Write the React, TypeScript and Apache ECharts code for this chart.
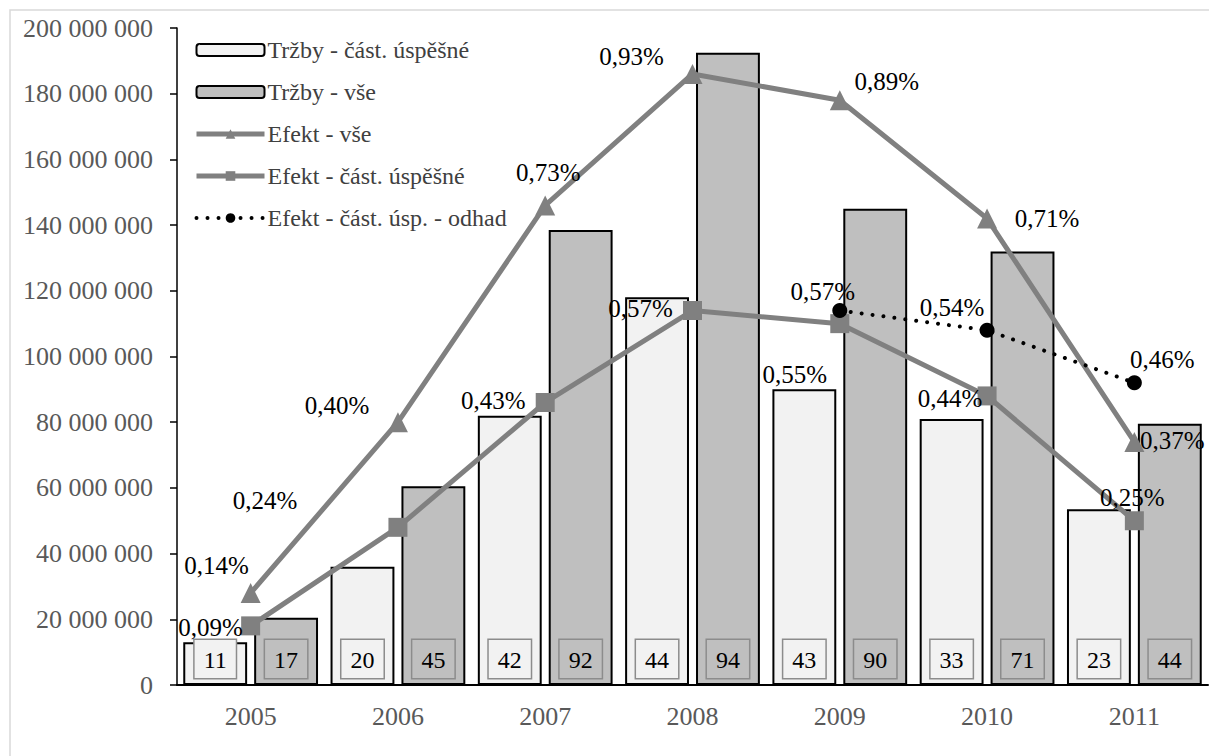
import React, { useEffect, useRef } from "react";
import * as echarts from "echarts";

const years = ["2005", "2006", "2007", "2008", "2009", "2010", "2011"];
const trzbyCast = [13000000, 36000000, 82000000, 118000000, 90000000, 81000000, 53500000];
const trzbyVse = [20500000, 60500000, 138500000, 192500000, 145000000, 132000000, 79500000];
const pocetCast = [11, 20, 42, 44, 43, 33, 23];
const pocetVse = [17, 45, 92, 94, 90, 71, 44];
const efektVse = [0.14, 0.4, 0.73, 0.93, 0.89, 0.71, 0.37];
const efektCast = [0.09, 0.24, 0.43, 0.57, 0.55, 0.44, 0.25];
const efektOdhad = [null, null, null, null, 0.57, 0.54, 0.46];
const yTicks = { min: 0, max: 200000000, interval: 20000000 };

// label offsets (style)
const offVse = [[-34, -28], [-61, -17], [3, -33], [-61, -17], [47, -19], [60, 0], [38, -1]];
const offCast = [[-40, 2], [-133, -27], [-52, -2], [-52, -2], [-45, 51], [-37, 3], [-2, -23]];
const offOdhad = [[0, 0], [0, 0], [0, 0], [0, 0], [-17, -19], [-35, -23], [28, -23]];

const FONT = "'Liberation Serif', 'Times New Roman', serif";
const fmtNum = (v: number) => String(v).replace(/\B(?=(\d{3})+(?!\d))/g, " ");
const fmtPct = (v: number) => v.toFixed(2).replace(".", ",") + "%";

function lineData(vals: (number | null)[], offs: number[][]) {
  return vals.map((v, i) =>
    v == null
      ? null
      : {
          value: v,
          label: { show: true, position: "inside", offset: offs[i], formatter: (p: any) => fmtPct(p.value) },
        }
  );
}

function barLabel(counts: number[], bg: string) {
  return {
    show: true,
    position: "insideBottom",
    distance: 7,
    formatter: (p: any) => String(counts[p.dataIndex]),
    fontFamily: FONT,
    fontSize: 24,
    lineHeight: 24,
    color: "#000",
    backgroundColor: bg,
    borderColor: "#8c8c8c",
    borderWidth: 1.5,
    padding: [8, 9, 6, 9],
  };
}

export default function App() {
  const ref = useRef<HTMLDivElement>(null);
  useEffect(() => {
    if (!ref.current) return;
    const chart = echarts.init(ref.current, null, { renderer: "svg" });
    const lineLabel = { fontFamily: FONT, fontSize: 25, color: "#000" };
    chart.setOption({
      animation: false,
      backgroundColor: "#fff",
      textStyle: { fontFamily: FONT },
      graphic: [
        {
          type: "rect",
          shape: { x: 10, y: 10, width: 1400, height: 900 },
          style: { fill: "none", stroke: "#d9d9d9", lineWidth: 1.5 },
          silent: true,
          z: -10,
        },
      ],
      grid: { left: 177, right: 1, top: 28, bottom: 71 },
      legend: {
        orient: "vertical",
        left: 189,
        top: 33,
        itemWidth: 68,
        itemHeight: 12,
        itemGap: 18,
        textStyle: { fontFamily: FONT, fontSize: 24, color: "#404040", padding: [0, 0, 0, -2] },
        data: [
          { name: "Tržby - část. úspěšné" },
          { name: "Tržby - vše" },
          { name: "Efekt - vše", lineStyle: { width: 5 } },
          { name: "Efekt - část. úspěšné", lineStyle: { width: 5 } },
          { name: "Efekt - část. úsp. - odhad", lineStyle: { width: 4 } },
        ],
      },
      xAxis: {
        type: "category",
        data: years,
        axisLine: { lineStyle: { color: "#000", width: 2 } },
        axisTick: { show: false },
        axisLabel: { fontFamily: FONT, fontSize: 26, color: "#595959", margin: 18 },
      },
      yAxis: [
        {
          type: "value",
          min: yTicks.min,
          max: yTicks.max,
          interval: yTicks.interval,
          axisLine: { show: true, lineStyle: { color: "#000", width: 1.5 } },
          axisTick: { show: true, length: 7, lineStyle: { color: "#000", width: 1.5 } },
          splitLine: { show: false },
          axisLabel: { fontFamily: FONT, fontSize: 26, color: "#595959", margin: 24, formatter: fmtNum },
        },
        { type: "value", min: 0, max: 1, show: false, splitLine: { show: false } },
      ],
      series: [
        {
          name: "Tržby - část. úspěšné",
          type: "bar",
          data: trzbyCast,
          barGap: "11%",
          barCategoryGap: "8.5%",
          itemStyle: { color: "#f2f2f2", borderColor: "#000", borderWidth: 2 },
          label: barLabel(pocetCast, "#f2f2f2"),
          z: 2,
        },
        {
          name: "Tržby - vše",
          type: "bar",
          data: trzbyVse,
          itemStyle: { color: "#bfbfbf", borderColor: "#000", borderWidth: 2 },
          label: barLabel(pocetVse, "#bfbfbf"),
          z: 2,
        },
        {
          name: "Efekt - vše",
          type: "line",
          yAxisIndex: 1,
          data: lineData(efektVse, offVse),
          symbol: "triangle",
          symbolSize: 20,
          itemStyle: { color: "#808080" },
          lineStyle: { color: "#808080", width: 5 },
          label: lineLabel,
          z: 5,
        },
        {
          name: "Efekt - část. úspěšné",
          type: "line",
          yAxisIndex: 1,
          data: lineData(efektCast, offCast),
          symbol: "rect",
          symbolSize: 19,
          itemStyle: { color: "#808080" },
          lineStyle: { color: "#808080", width: 5 },
          label: lineLabel,
          z: 5,
        },
        {
          name: "Efekt - část. úsp. - odhad",
          type: "line",
          yAxisIndex: 1,
          data: lineData(efektOdhad, offOdhad),
          symbol: "circle",
          symbolSize: 15,
          itemStyle: { color: "#000" },
          lineStyle: { color: "#000", width: 4, type: [0.01, 11], cap: "round" },
          label: lineLabel,
          z: 6,
        },
      ],
    });
    return () => chart.dispose();
  }, []);
  return (
    <div
      ref={ref}
      style={{ position: "fixed", left: 0, top: 0, width: 1209, height: 756 }}
    />
  );
}
